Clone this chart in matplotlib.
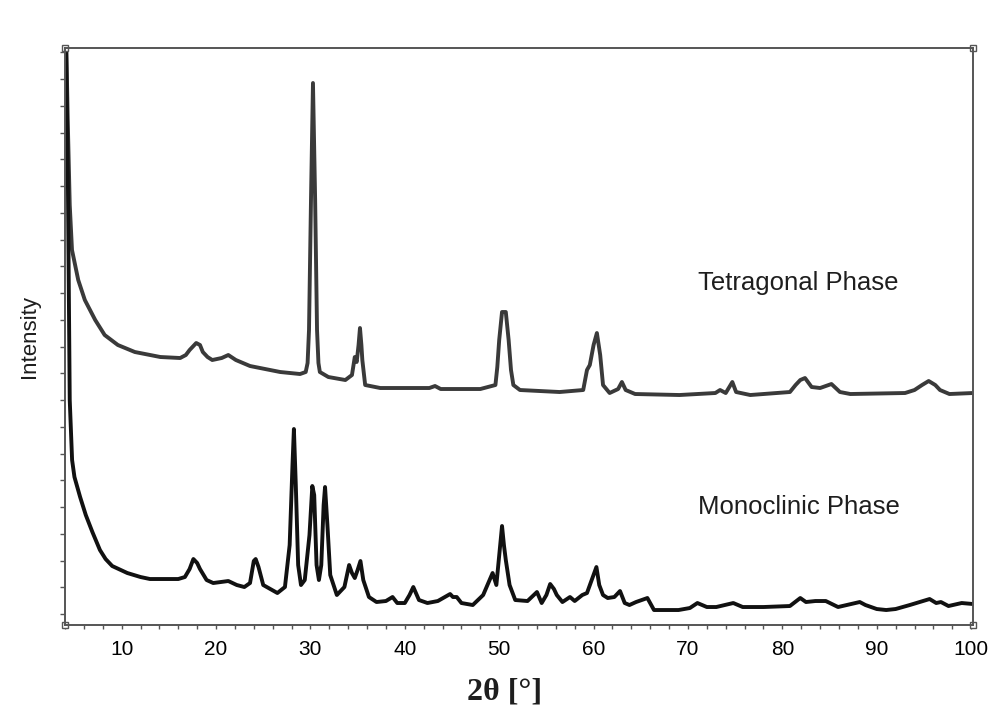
import numpy as np
import matplotlib
matplotlib.use("Agg")
import matplotlib.pyplot as plt
from matplotlib.ticker import MultipleLocator, FixedLocator

# --- data (2theta in degrees, intensity in a.u.) ---
tet_2theta = [4.05, 4.3, 4.5, 4.74, 5.4, 6.1, 7.2, 8.2, 9.6, 11.4, 14.1, 16.2, 16.8, 17.2, 17.9,
              18.3, 18.6, 19.1, 19.6, 20.6, 21.3, 22.1, 23.6, 25.2, 26.8, 28.9, 29.5, 29.7, 29.85,
              30.06, 30.27, 30.5, 30.7, 30.85, 31.0, 31.9, 33.7, 34.4, 34.6, 34.7, 34.9, 35.1,
              35.25, 35.4, 35.5, 35.8, 37.4, 39.5, 42.6, 43.2, 43.8, 48.0, 49.6, 49.8, 50.0,
              50.3, 50.7, 51.0, 51.25, 51.5, 52.2, 56.4, 58.9, 59.3, 59.6, 60.0, 60.35, 60.7,
              61.0, 61.7, 62.6, 63.0, 63.4, 64.4, 69.1, 72.9, 73.4, 74.0, 74.7, 75.1, 76.6,
              80.8, 81.4, 81.9, 82.4, 83.1, 84.0, 85.2, 86.1, 87.2, 93.0, 94.0, 94.8, 95.5,
              96.2, 96.7, 97.7, 100.2]
tet_int = [620, 500, 420, 375, 345, 325, 305, 290, 280, 273, 268, 267, 270, 275, 282,
           280, 273, 268, 265, 267, 270, 265, 259, 256, 253, 251, 253, 262, 295,
           425, 542, 425, 295, 262, 253, 248, 245, 250, 262, 268, 263, 280,
           297, 280, 265, 240, 237, 237, 237, 239, 236, 236, 240, 258, 285,
           313, 313, 285, 255, 240, 235, 233, 235, 255, 260, 280, 292, 270,
           240, 232, 236, 243, 235, 231, 230, 232, 235, 232, 243, 233, 230,
           233, 240, 245, 247, 238, 237, 241, 233, 231, 232, 235, 240, 244,
           240, 235, 231, 232]

mono_2theta = [4.05, 4.3, 4.5, 4.75, 5.0, 5.6, 6.2, 6.9, 7.7, 8.3, 9.0, 10.6, 12.0,
               13.0, 16.0, 16.7,
               17.2, 17.6, 18.0, 18.3, 19.0, 19.7, 20.5, 21.3, 22.2, 23.0, 23.6, 24.0, 24.2,
               24.5, 25.0, 26.5, 27.3, 27.8, 28.1, 28.25, 28.45, 28.7, 29.0, 29.4, 29.9, 30.2,
               30.4, 30.65, 30.9, 31.15, 31.4, 31.55, 31.8, 32.1, 32.8, 33.6, 34.1, 34.4,
               34.7, 35.0, 35.3, 35.6, 36.2, 37.0, 38.0, 38.7, 39.2, 40.0, 40.5, 40.9, 41.5,
               42.4, 43.5, 44.8, 45.1, 45.5, 46.0, 47.2, 48.3, 49.3, 49.7, 50.0, 50.3,
               50.5, 50.7, 51.1, 51.7, 53.0, 54.0, 54.5, 55.0, 55.4, 55.8, 56.1, 56.7,
               57.5, 58.0, 58.8, 59.3, 59.8, 60.3, 60.6, 61.0, 61.5, 62.2, 62.8, 63.3,
               63.8, 64.5, 65.7, 66.4, 67.5, 69.0, 70.2, 71.0, 72.0, 73.0, 74.8, 75.8,
               78.0, 80.8, 81.9, 82.5, 83.5, 84.6, 85.9, 88.2, 88.8, 90.0, 91.0, 92.0,
               93.5, 95.6, 96.3, 96.8, 97.6, 99.0, 100.2]
mono_int = [620, 450, 225, 165, 148, 128, 110, 93, 75, 66, 59, 52, 48,
            46, 46, 48,
            56, 66, 62, 56, 45, 42, 43, 44, 40, 38, 42, 64, 66,
            58, 40, 32, 38, 80, 160, 196, 140, 60, 40, 45, 90, 139,
            130, 60, 45, 60, 120, 138, 100, 50, 30, 38, 60, 52,
            47, 55, 64, 45, 28, 23, 24, 28, 22, 22, 30, 38, 25,
            22, 24, 31, 28, 28, 22, 20, 30, 52, 40, 70, 99,
            80, 65, 40, 25, 24, 33, 22, 30, 41, 36, 30, 23,
            28, 24, 30, 32, 45, 58, 40, 30, 27, 28, 34, 22,
            20, 23, 27, 15, 15, 15, 17, 22, 18, 18, 22, 18,
            18, 19, 27, 23, 24, 24, 18, 23, 20, 16, 15, 16,
            20, 26, 22, 23, 19, 22, 21]

x_ticks = [10, 20, 30, 40, 50, 60, 70, 80, 90, 100]
labels = ["Tetragonal Phase", "Monoclinic Phase"]

# --- figure ---
fig = plt.figure(figsize=(10.08, 7.08), dpi=100)
ax = fig.add_axes([0.0645, 0.1172, 0.9008, 0.815])

ax.plot(tet_2theta, tet_int, color="#3a3a3a", lw=2.8,
        solid_joinstyle="round", solid_capstyle="round")
ax.plot(mono_2theta, mono_int, color="#111111", lw=2.8,
        solid_joinstyle="round", solid_capstyle="round")

ax.set_xlim(4, 100.2)
ax.set_ylim(0, 577)

ax.xaxis.set_major_locator(FixedLocator(x_ticks))
ax.xaxis.set_minor_locator(MultipleLocator(2))
ax.yaxis.set_major_locator(FixedLocator(np.arange(11, 577, 26.75)))
ax.set_yticklabels([])
ax.tick_params(axis="x", which="both", direction="out", length=3, width=1,
               color="#555555", labelsize=15, pad=8)
ax.tick_params(axis="y", which="both", direction="out", length=3.5, width=1,
               color="#555555")
for lab in ax.get_xticklabels():
    lab.set_family("Liberation Sans")
for s in ax.spines.values():
    s.set_color("#555555")
    s.set_linewidth(1.4)

# little hollow squares at the frame corners
ax.plot([0, 1, 0, 1], [0, 0, 1, 1], "s", ms=4, mfc="white", mec="#555555",
        mew=1, transform=ax.transAxes, clip_on=False, ls="none")

ax.text(71.1, 625 - 283, labels[0], fontsize=18.5, family="Liberation Sans",
        va="center", ha="left", color="#1e1e1e")
ax.text(71.1, 625 - 507, labels[1], fontsize=18.5, family="Liberation Sans",
        va="center", ha="left", color="#1e1e1e")

fig.text(30 / 1008, 1 - 337 / 708, "Intensity", fontsize=16, family="Liberation Sans",
         rotation=90, ha="center", va="center", color="#1e1e1e")
fig.text(505 / 1008, 1 - 692 / 708, "2θ [°]", fontsize=23, family="Liberation Serif",
         weight="bold", ha="center", va="center", color="#1e1e1e")

fig.savefig("out.png", dpi=100)
